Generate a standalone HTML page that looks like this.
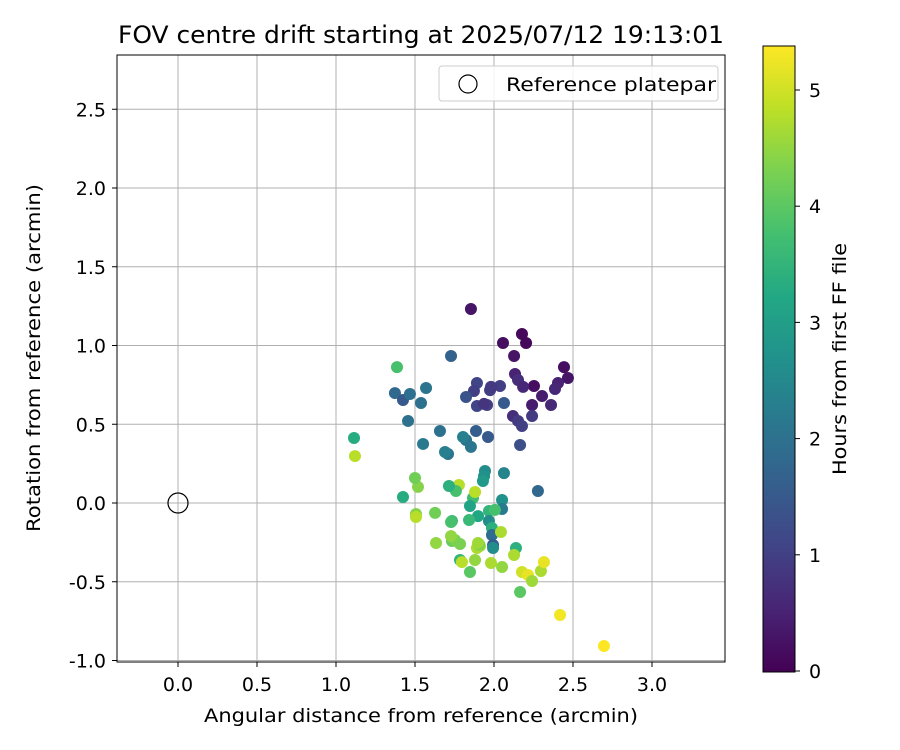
<!DOCTYPE html>
<html><head><meta charset="utf-8"><style>
body{margin:0;background:#fff;}
svg{display:block;font-family:"DejaVu Sans","Liberation Sans",sans-serif;}
</style></head><body>
<svg id="chart" width="900" height="750">
<defs>
<linearGradient id="vir" x1="0" y1="1" x2="0" y2="0">
<stop offset="0" stop-color="#440154"/><stop offset="0.1" stop-color="#482475"/><stop offset="0.2" stop-color="#414487"/><stop offset="0.3" stop-color="#355f8d"/><stop offset="0.4" stop-color="#2a788e"/><stop offset="0.5" stop-color="#21918c"/><stop offset="0.6" stop-color="#22a884"/><stop offset="0.7" stop-color="#44bf70"/><stop offset="0.8" stop-color="#7ad151"/><stop offset="0.9" stop-color="#bddf26"/><stop offset="1" stop-color="#fde725"/>
</linearGradient>
</defs>
<text x="421" y="43" font-size="24" textLength="606" lengthAdjust="spacingAndGlyphs" text-anchor="middle">FOV centre drift starting at 2025/07/12 19:13:01</text>
<g id="grid"></g>
<g id="points"></g>
<rect x="117" y="55" width="608" height="607" fill="none" stroke="#000" stroke-width="1"/>
<g id="ticks"></g>
<text x="421" y="722" font-size="19" textLength="434" lengthAdjust="spacingAndGlyphs" text-anchor="middle">Angular distance from reference (arcmin)</text>
<text transform="translate(40,358) rotate(-90)" font-size="19" textLength="348" lengthAdjust="spacingAndGlyphs" text-anchor="middle">Rotation from reference (arcmin)</text>
<g>
<rect x="439" y="66" width="279" height="35" rx="3" fill="#fff" fill-opacity="0.85" stroke="#ccc"/>
<circle cx="468" cy="84" r="9" fill="none" stroke="#000" stroke-width="1.2"/>
<text x="506" y="91" font-size="19" textLength="210" lengthAdjust="spacingAndGlyphs">Reference platepar</text>
</g>
<rect x="763" y="46" width="32" height="626" fill="url(#vir)" stroke="#000" stroke-width="1"/>
<g id="cbticks"></g>
<text transform="translate(846,359) rotate(-90)" font-size="19" textLength="232" lengthAdjust="spacingAndGlyphs" text-anchor="middle">Hours from first FF file</text>
</svg>
<script>
const xs=[1.854,2.177,2.203,2.057,2.127,2.443,2.468,2.405,2.386,2.304,2.361,2.253,2.241,2.241,2.133,2.152,2.184,2.120,2.152,2.177,2.165,2.038,2.063,1.975,1.981,1.892,1.873,1.892,1.956,1.937,1.823,1.728,1.886,1.962,1.823,1.854,1.804,1.658,1.709,1.690,1.373,1.424,1.468,1.570,1.538,1.456,1.551,1.386,1.114,1.120,1.943,1.937,2.063,1.930,2.051,2.051,2.278,1.968,2.006,1.968,1.987,1.987,1.994,1.994,1.899,1.867,1.848,1.778,1.759,1.715,1.880,1.424,1.519,1.500,1.506,1.506,1.627,1.734,1.842,1.728,1.734,1.753,1.785,1.633,1.728,1.785,1.848,1.892,1.911,1.905,1.899,1.880,1.797,1.981,2.051,2.044,2.139,2.127,2.177,2.215,2.241,2.297,2.316,2.165,2.418,2.696];
const ys=[1.232,1.073,1.016,1.016,0.933,0.863,0.794,0.762,0.724,0.679,0.622,0.743,0.622,0.552,0.819,0.781,0.737,0.552,0.521,0.489,0.368,0.743,0.635,0.717,0.737,0.762,0.711,0.616,0.622,0.629,0.673,0.933,0.457,0.419,0.400,0.356,0.419,0.457,0.311,0.324,0.698,0.654,0.692,0.730,0.635,0.521,0.375,0.863,0.413,0.298,0.203,0.171,0.190,0.140,0.019,-0.038,0.076,-0.051,-0.044,-0.114,-0.159,-0.203,-0.267,-0.286,-0.083,0.032,-0.019,0.114,0.076,0.108,0.070,0.038,0.102,0.159,-0.070,-0.089,-0.063,-0.114,-0.108,-0.121,-0.241,-0.235,-0.260,-0.254,-0.210,-0.362,-0.438,-0.286,-0.273,-0.260,-0.254,-0.362,-0.375,-0.381,-0.406,-0.184,-0.286,-0.330,-0.438,-0.457,-0.495,-0.432,-0.375,-0.565,-0.711,-0.908];
const hours=[0.3,0.1,0.1,0.2,0.3,0.2,0.3,0.5,0.6,0.4,0.6,0.2,0.4,0.9,0.5,0.7,0.6,0.7,0.9,1.0,1.3,1.0,1.5,1.0,0.9,1.1,1.0,1.1,1.0,0.8,1.4,1.7,1.6,1.5,2.0,2.1,2.3,2.0,2.1,2.3,1.8,1.5,2.0,2.1,2.0,2.0,2.2,3.8,3.3,4.8,2.6,2.7,2.4,2.9,2.7,2.2,1.8,3.5,3.8,2.6,3.4,1.9,1.6,2.6,3.2,3.7,3.1,4.8,3.8,3.4,4.8,3.3,4.4,4.2,4.4,4.8,4.2,3.6,3.6,3.8,4.1,4.3,4.3,4.5,4.5,3.5,4.0,4.7,4.6,4.2,4.6,4.5,4.8,4.7,4.5,4.7,3.4,4.7,5.0,5.2,4.6,4.7,5.2,4.0,5.3,5.4];
const xTicks=[0,0.5,1,1.5,2,2.5,3];
const yTicks=[-1,-0.5,0,0.5,1,1.5,2,2.5];
const cTicks=[0,1,2,3,4,5];
const NS='http://www.w3.org/2000/svg';
const X=v=>178+v*158, Y=v=>503-v*157.5, C=v=>671-v*116.2;
const vir=['#440154','#482475','#414487','#355f8d','#2a788e','#21918c','#22a884','#44bf70','#7ad151','#bddf26','#fde725'];
function col(h){let t=Math.max(0,Math.min(1,h/5.38))*10;let i=Math.min(9,Math.floor(t)),f=t-i;
const a=vir[i],b=vir[i+1];const p=(s,k)=>parseInt(s.substr(k,2),16);
let r=[1,3,5].map(k=>Math.round(p(a,k)+(p(b,k)-p(a,k))*f));return 'rgb('+r.join(',')+')';}
function mk(tag,at,parent){const e=document.createElementNS(NS,tag);for(const k in at)e.setAttribute(k,at[k]);parent.appendChild(e);return e;}
const grid=document.getElementById('grid'),ticks=document.getElementById('ticks'),pts=document.getElementById('points'),cb=document.getElementById('cbticks');
xTicks.forEach(v=>{const x=X(v);
const g=mk('line',{x1:x,x2:x,y1:55,y2:662,stroke:'#b0b0b0','stroke-width':1},grid);


mk('line',{x1:x,x2:x,y1:662,y2:667,stroke:'#000'},ticks);
const t=mk('text',{x:x,y:691,'font-size':19,'text-anchor':'middle'},ticks);t.textContent=v.toFixed(1);

});
yTicks.forEach(v=>{const y=Y(v);
const g=mk('line',{x1:117,x2:725,y1:y,y2:y,stroke:'#b0b0b0','stroke-width':1},grid);


mk('line',{x1:112,x2:117,y1:y,y2:y,stroke:'#000'},ticks);
const t=mk('text',{x:106,y:y+7,'font-size':19,'text-anchor':'end'},ticks);t.textContent=v.toFixed(1);

});
const ref=mk('circle',{cx:X(0),cy:Y(0),r:10,fill:'none',stroke:'#000','stroke-width':1.2},pts);


xs.forEach((v,i)=>{const c=mk('circle',{cx:X(v),cy:Y(ys[i]),r:6,fill:col(hours[i])},pts);

});
cTicks.forEach(v=>{const y=C(v);mk('line',{x1:795,x2:800,y1:y,y2:y,stroke:'#000'},cb);
const t=mk('text',{x:809,y:y+7,'font-size':19},cb);t.textContent=v;

});
</script>
</body></html>
